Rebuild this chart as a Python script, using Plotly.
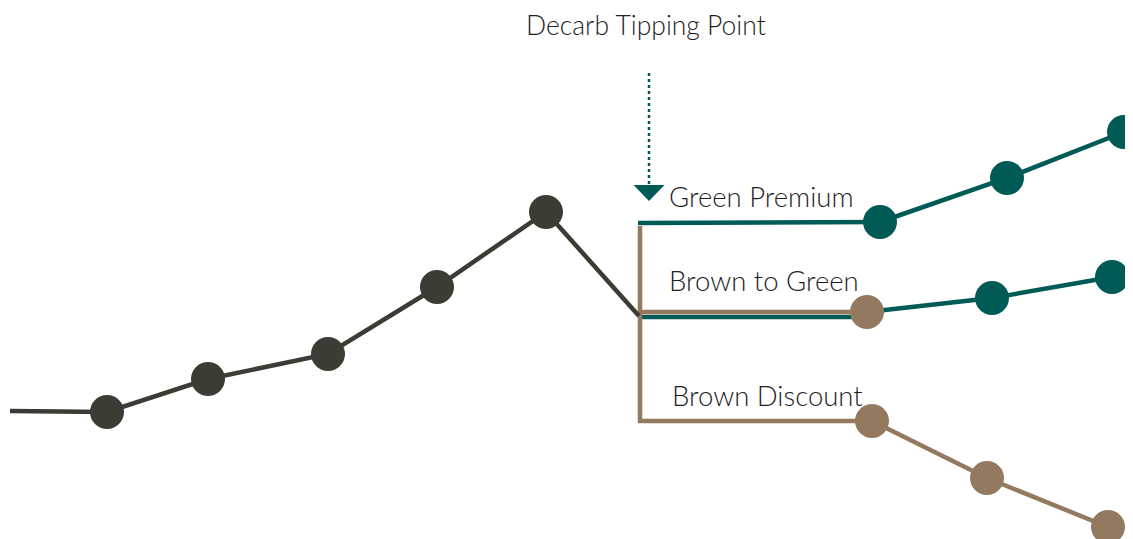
import plotly.graph_objects as go

# ---- data (arbitrary time / value units) ----
hist_x = [0.10, 1.07, 2.08, 3.28, 4.37, 5.46, 6.39]
hist_y = [1.28, 1.27, 1.60, 1.85, 2.52, 3.27, 2.23]
hist_marker = [False, True, True, True, True, True, False]

tip_x = 6.40
prem_flat_y = 3.16
b2g_brown_y = 2.27
b2g_green_y = 2.22
disc_flat_y = 1.18

prem_x = [8.80, 10.07, 11.24]
prem_y = [3.17, 3.61, 4.07]

b2g_x = [8.67, 9.92, 11.12]
b2g_y = [2.27, 2.41, 2.62]

disc_x = [8.72, 9.87, 11.08]
disc_y = [1.18, 0.61, 0.12]

labels = ["Green Premium", "Brown to Green", "Brown Discount"]
label_y = [3.43, 2.59, 1.44]
label_x = [6.67, 6.67, 6.70]
title_text = "Decarb Tipping Point"

DARK = "#3c3b34"
GREEN = "#005b56"
BROWN = "#937a5e"
TEXT = "#1e1e1e"
MS = 34
LW = 4.5

fig = go.Figure()

# Green premium: flat then rising
fig.add_trace(go.Scatter(x=[tip_x - 0.02, prem_x[0]], y=[prem_flat_y, prem_y[0]], mode="lines",
                         line=dict(color=GREEN, width=LW), hoverinfo="skip"))
# Brown to green: green flat segment
fig.add_trace(go.Scatter(x=[tip_x, b2g_x[0]], y=[b2g_green_y, b2g_green_y], mode="lines",
                         line=dict(color=GREEN, width=LW), hoverinfo="skip"))
# Brown to green rising green line
fig.add_trace(go.Scatter(x=b2g_x, y=b2g_y, mode="lines",
                         line=dict(color=GREEN, width=LW), hoverinfo="skip"))
# Brown bracket: vertical + flats
fig.add_trace(go.Scatter(
    x=[tip_x, tip_x, disc_x[0], None, tip_x, b2g_x[0]],
    y=[prem_flat_y - 0.03, disc_flat_y, disc_flat_y, None, b2g_brown_y, b2g_brown_y],
    mode="lines", line=dict(color=BROWN, width=LW), hoverinfo="skip"))
# Brown discount falling line
fig.add_trace(go.Scatter(x=disc_x, y=disc_y, mode="lines+markers",
                         line=dict(color=BROWN, width=LW),
                         marker=dict(color=BROWN, size=MS), hoverinfo="skip"))
# Green premium markers
fig.add_trace(go.Scatter(x=prem_x, y=prem_y, mode="lines+markers",
                         line=dict(color=GREEN, width=LW),
                         marker=dict(color=GREEN, size=MS), hoverinfo="skip"))
# Brown to green markers
fig.add_trace(go.Scatter(x=b2g_x, y=b2g_y, mode="markers",
                         marker=dict(color=[BROWN, GREEN, GREEN], size=MS), hoverinfo="skip"))
# Historical dark line
fig.add_trace(go.Scatter(x=hist_x, y=hist_y, mode="lines",
                         line=dict(color=DARK, width=LW), hoverinfo="skip"))
fig.add_trace(go.Scatter(x=[x for x, m in zip(hist_x, hist_marker) if m],
                         y=[y for y, m in zip(hist_y, hist_marker) if m],
                         mode="markers", marker=dict(color=DARK, size=MS), hoverinfo="skip"))

# Dotted arrow
arrow_x = 6.49
arrow_top = 4.66
arrow_bot = 3.54
tri_half_w = 0.155
tri_h = 0.16
fig.add_shape(type="line", x0=arrow_x, x1=arrow_x, y0=arrow_top, y1=arrow_bot,
              line=dict(color=GREEN, width=2.5, dash="dot"))
fig.add_shape(type="path",
              path=f"M {arrow_x - tri_half_w},{arrow_bot} L {arrow_x + tri_half_w},{arrow_bot} L {arrow_x},{arrow_bot - tri_h} Z",
              fillcolor=GREEN, line=dict(color=GREEN, width=0))

for t, lx, ly in zip(labels, label_x, label_y):
    fig.add_annotation(x=lx, y=ly, text=t, showarrow=False, xanchor="left", yanchor="middle",
                       font=dict(family="Lato", size=27.5, color=TEXT, weight=300))
fig.add_annotation(x=6.46, y=5.14, text=title_text, showarrow=False, xanchor="center", yanchor="middle",
                   font=dict(family="Lato", size=26.5, color=TEXT, weight=300))

# page body has an 8px margin; offset ranges so marks land where the reference shows them
fig.update_layout(
    width=1133, height=539, autosize=False,
    margin=dict(l=0, r=0, t=0, b=0),
    paper_bgcolor="white", plot_bgcolor="white",
    showlegend=False,
    xaxis=dict(range=[0.08, 11.41], visible=False, fixedrange=True),
    yaxis=dict(range=[-0.08, 5.31], visible=False, fixedrange=True),
)

fig.write_html("out.html", config={"displayModeBar": False})
